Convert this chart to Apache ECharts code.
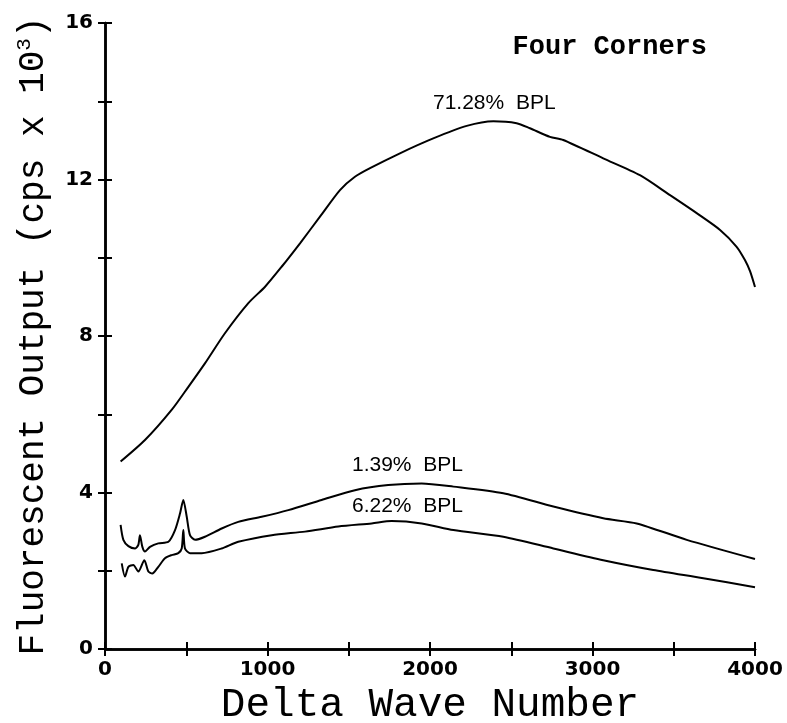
<!DOCTYPE html>
<html><head><meta charset="utf-8">
<script src="https://cdn.jsdelivr.net/npm/echarts@6/dist/echarts.min.js"></script>
<style>html,body{margin:0;padding:0;background:#fff}#c{width:787px;height:723px}</style>
</head><body><div id="c"></div>
<script>
// ---- data ----
const xTicks = [0, 1000, 2000, 3000, 4000];
const yTicks = [0, 4, 8, 12, 16];

const bpl7128X = [96,246,410,513,615,738,882,985,1087,1200,1323,1446,1538,1631,1815,2020,2226,2390,2533,2615,2738,2820,3066,3292,3477,3641,3785,3887,3938,3970,4000];
const bpl7128Y = [4.79,5.34,6.11,6.70,7.30,8.07,8.84,9.26,9.77,10.37,11.05,11.73,12.07,12.29,12.67,13.05,13.37,13.49,13.44,13.31,13.09,13.01,12.54,12.11,11.60,11.14,10.71,10.28,9.94,9.65,9.25];

const bpl139X = [96,113,144,185,205,215,230,246,277,328,390,431,462,482,503,523,554,615,718,820,964,1128,1333,1538,1743,1949,2144,2451,2759,3066,3272,3580,4000];
const bpl139Y = [3.17,2.79,2.63,2.57,2.66,2.91,2.61,2.49,2.61,2.70,2.74,3.04,3.47,3.81,3.38,2.91,2.79,2.87,3.08,3.25,3.38,3.55,3.81,4.06,4.19,4.23,4.15,3.98,3.64,3.34,3.21,2.79,2.30];

const bpl622X = [103,123,144,174,205,242,267,291,328,369,410,451,472,482,492,523,595,718,820,1026,1231,1436,1641,1764,1949,2144,2451,2759,3066,3374,3682,4000];
const bpl622Y = [2.19,1.85,2.10,2.15,1.98,2.27,1.98,1.93,2.10,2.32,2.40,2.45,2.57,3.04,2.57,2.45,2.45,2.57,2.74,2.91,3.00,3.13,3.21,3.27,3.21,3.04,2.87,2.57,2.27,2.02,1.81,1.58];

const seriesLabels = ['71.28%  BPL', '1.39%  BPL', '6.22%  BPL'];
const panelTitle = 'Four Corners';
const xTitle = 'Delta Wave Number';
const yTitleMain = 'Fluorescent Output (cps x 10';
const yTitleSup = '3';

// ---- chart ----
const chart = echarts.init(document.getElementById('c'), null, {renderer: 'canvas'});
const pair = (xs, ys) => xs.map((x, i) => [x, ys[i]]);
const axisLine = {show: true, lineStyle: {color: '#000', width: 2.5}};
const tick = {show: true, inside: true, length: 7, lineStyle: {color: '#000', width: 2}};
const tickFont = {fontFamily: 'DejaVu Sans', fontWeight: 'bold', fontSize: 20, color: '#000'};
const titleFont = 'Liberation Mono';
const lineSeries = (xs, ys) => ({
  type: 'line', data: pair(xs, ys), showSymbol: false, smooth: 0.25,
  lineStyle: {color: '#000', width: 2}, xAxisIndex: 0, yAxisIndex: 0
});

const option = {
  animation: false,
  backgroundColor: '#fff',
  grid: {left: 105, right: 32, top: 23, bottom: 74, containLabel: false, outerBoundsMode: 'none'},
  xAxis: [{
    type: 'value', min: 0, max: 4000, interval: 500,
    axisLine, axisTick: tick, splitLine: {show: false},
    axisLabel: Object.assign({margin: 11, formatter: v => xTicks.includes(v) ? String(v) : ''}, tickFont),
    name: xTitle, nameLocation: 'middle', nameGap: 28,
    nameTextStyle: {fontFamily: titleFont, fontSize: 41, color: '#000', verticalAlign: 'top'}
  }, {
    type: 'value', position: 'top', min: 0, max: 4000, interval: 500,
    axisLine, axisTick: tick, axisLabel: {show: false}, splitLine: {show: false}
  }],
  yAxis: [{
    type: 'value', min: 0, max: 16, interval: 2,
    axisLine, axisTick: tick, splitLine: {show: false},
    axisLabel: Object.assign({margin: 12, formatter: v => yTicks.includes(v) ? String(v) : ''}, tickFont),
    name: '{a|' + yTitleMain + '}{s|' + yTitleSup + '}{a|)}',
    nameLocation: 'middle', nameGap: 54, nameRotate: 90,
    nameTextStyle: {
      color: '#000',
      rich: {
        a: {fontFamily: titleFont, fontSize: 36, color: '#000', verticalAlign: 'bottom'},
        s: {fontFamily: titleFont, fontSize: 21, color: '#000', verticalAlign: 'bottom', padding: [0, 0, 16, 0]}
      }
    }
  }, {
    type: 'value', position: 'right', min: 0, max: 16, interval: 2,
    axisLine, axisTick: tick, axisLabel: {show: false}, splitLine: {show: false}
  }],
  series: [
    lineSeries(bpl7128X, bpl7128Y),
    lineSeries(bpl139X, bpl139Y),
    lineSeries(bpl622X, bpl622Y)
  ],
  graphic: [
    {type: 'text', left: 433, top: 93, style: {text: seriesLabels[0], font: '21px "Liberation Sans"', fill: '#000'}},
    {type: 'text', left: 352, top: 455, style: {text: seriesLabels[1], font: '21px "Liberation Sans"', fill: '#000'}},
    {type: 'text', left: 352, top: 496, style: {text: seriesLabels[2], font: '21px "Liberation Sans"', fill: '#000'}},
    {type: 'text', right: 80, top: 34, style: {text: panelTitle, font: 'bold 27px "Liberation Mono"', fill: '#000'}}
  ]
};
chart.setOption(option);
</script></body></html>
